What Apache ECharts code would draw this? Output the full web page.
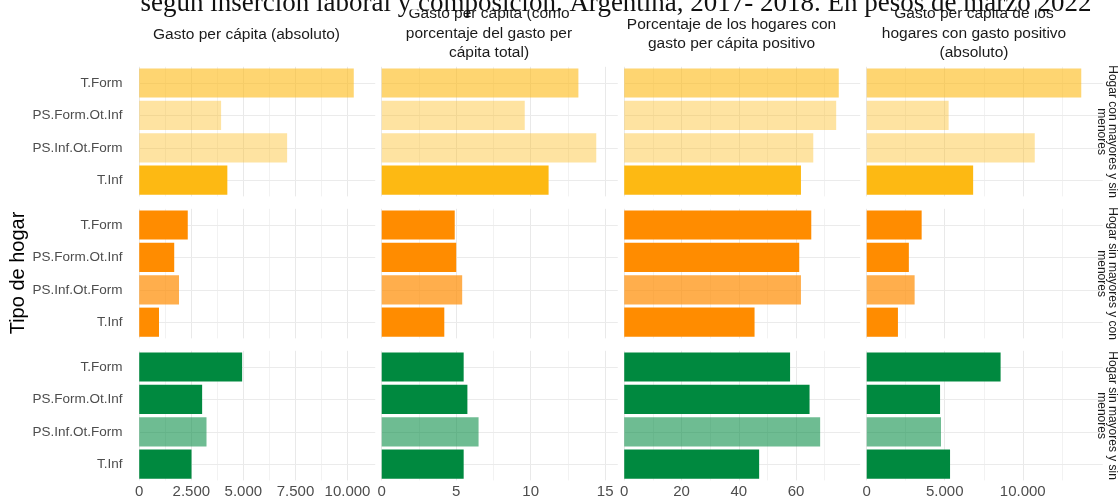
<!DOCTYPE html>
<html><head><meta charset="utf-8">
<script src="https://cdn.jsdelivr.net/npm/echarts@6/dist/echarts.min.js"></script>
<style>html,body{margin:0;padding:0;background:#fff}#c{width:1119px;height:503px}</style>
</head><body><div id="c"></div>
<script>
// ---- data ----
const categories = ['T.Form', 'PS.Form.Ot.Inf', 'PS.Inf.Ot.Form', 'T.Inf'];
const rowLabels = ['Hogar con mayores y sin\nmenores', 'Hogar sin mayores y con\nmenores', 'Hogar sin mayores y sin\nmenores'];
const colTitles = ['Gasto per cápita (absoluto)', 'Gasto per cápita (como\nporcentaje del gasto per\ncápita total)', 'Porcentaje de los hogares con\ngasto per cápita positivo', 'Gasto per cápita de los\nhogares con gasto positivo\n(absoluto)'];
const chartTitle = 'según inserción laboral y composición. Argentina, 2017- 2018. En pesos de marzo 2022';
const yAxisTitle = 'Tipo de hogar';
// rows: con mayores y sin menores / sin mayores y con menores / sin mayores y sin menores
const gastoAbsoluto = [[10300, 3930, 7100, 4230], [2330, 1680, 1910, 950], [4940, 3020, 3230, 2510]];
const gastoPorcentaje = [[13.2, 9.6, 14.4, 11.2], [4.9, 5.0, 5.4, 4.2], [5.5, 5.75, 6.5, 5.5]];
const porcentajeHogares = [[74.9, 74.0, 66.0, 61.7], [65.3, 61.1, 61.7, 45.5], [57.9, 64.7, 68.4, 47.1]];
const gastoPositivo = [[13750, 5250, 10770, 6820], [3520, 2700, 3070, 2000], [8580, 4700, 4760, 5340]];
const xMajorSteps = [2500, 5, 20, 5000];

// ---- styles ----
const rowColors = ['#FDB913', '#FF8C00', '#00893F'];
const rowOpacity = [[0.6, 0.4, 0.4, 1], [1, 1, 0.7, 1], [1, 1, 0.57, 1]];
const measures = [gastoAbsoluto, gastoPorcentaje, porcentajeHogares, gastoPositivo];

// ---- layout ----
const panelLeft = [128.5, 371, 613.5, 856];
const panelW = 236;
const expandPx = panelW * 0.05 / 1.1;
const gridW = panelW - expandPx;
const gridTop = [66.8, 208.8, 350.8];
const gridH = 129.6;
const titleY = [35, 33.5, 34, 33.5];
const FONT = '"Liberation Sans", Arial, sans-serif';

function fmt(v) {
  if (Math.abs(v) >= 1000) return String(Math.round(v)).replace(/\B(?=(\d{3})+(?!\d))/g, '.');
  return String(Math.round(v * 100) / 100);
}

const grids = [], xAxes = [], yAxes = [], series = [];
for (let r = 0; r < 3; r++) {
  for (let c = 0; c < 4; c++) {
    const idx = r * 4 + c;
    const colMax = Math.max(...measures[c].flat());
    const step = xMajorSteps[c];
    grids.push({ left: panelLeft[c] + expandPx, top: gridTop[r], width: gridW, height: gridH, containLabel: false });
    xAxes.push({
      type: 'value', gridIndex: idx, min: 0, max: colMax * 1.05, interval: step / 2,
      axisLine: { show: false }, axisTick: { show: false },
      axisLabel: {
        show: r === 2, margin: 4, color: '#4d4d4d', fontSize: 15, fontFamily: FONT,
        showMaxLabel: false,
        formatter: v => (Math.abs(v / step - Math.round(v / step)) < 1e-6 ? fmt(v) : '')
      },
      splitLine: { show: true, showMaxLine: false, lineStyle: { color: ['#e9e9e9', '#f2f2f2'], width: 1 } }
    });
    yAxes.push({
      type: 'category', gridIndex: idx, data: categories, inverse: true,
      offset: expandPx,
      axisLine: { show: false },
      axisTick: { show: true, inside: true, alignWithLabel: true, length: panelW, lineStyle: { color: '#ebebeb', width: 1 } },
      axisLabel: { show: c === 0, margin: 6, color: '#4d4d4d', fontSize: 13.5, fontFamily: FONT },
      splitLine: { show: false }
    });
    series.push({
      type: 'bar', xAxisIndex: idx, yAxisIndex: idx, barWidth: '90%',
      data: measures[c][r].map((v, i) => ({ value: v, itemStyle: { color: rowColors[r], opacity: rowOpacity[r][i] } })),
      silent: true, animation: false
    });
  }
}

const graphics = [];
for (let c = 0; c < 4; c++) {
  graphics.push({ type: 'text', x: panelLeft[c] + panelW / 2, y: titleY[c], z: 1, style: { text: colTitles[c], fontSize: 15.5, lineHeight: 19.5, fontFamily: FONT, fill: '#1a1a1a', align: 'center', verticalAlign: 'middle' } });
}
// band above the chart picture where the document heading sits
graphics.push({ type: 'rect', shape: { x: 0, y: 0, width: 1119, height: 9.5 }, z: 10, style: { fill: '#fff' } });
graphics.push({ type: 'text', x: 616, y: 3.5, z: 20, style: { text: chartTitle, fontSize: 27, fontFamily: '"Liberation Serif", "DejaVu Serif", serif', fill: '#111', align: 'center', verticalAlign: 'middle' } });
for (let r = 0; r < 3; r++) {
  graphics.push({ type: 'text', x: 1106.5, y: gridTop[r] + gridH / 2, rotation: -Math.PI / 2, style: { text: rowLabels[r], fontSize: 12, lineHeight: 11, fontFamily: FONT, fill: '#1a1a1a', align: 'center', verticalAlign: 'middle' } });
}
graphics.push({ type: 'text', x: 18.5, y: 273, rotation: Math.PI / 2, style: { text: yAxisTitle, fontSize: 20, fontFamily: FONT, fill: '#000', align: 'center', verticalAlign: 'middle' } });

const chart = echarts.init(document.getElementById('c'), null, { renderer: 'canvas' });
chart.setOption({
  animation: false,
  backgroundColor: '#fff',
  grid: grids, xAxis: xAxes, yAxis: yAxes, series: series,
  graphic: graphics
});
</script></body></html>
